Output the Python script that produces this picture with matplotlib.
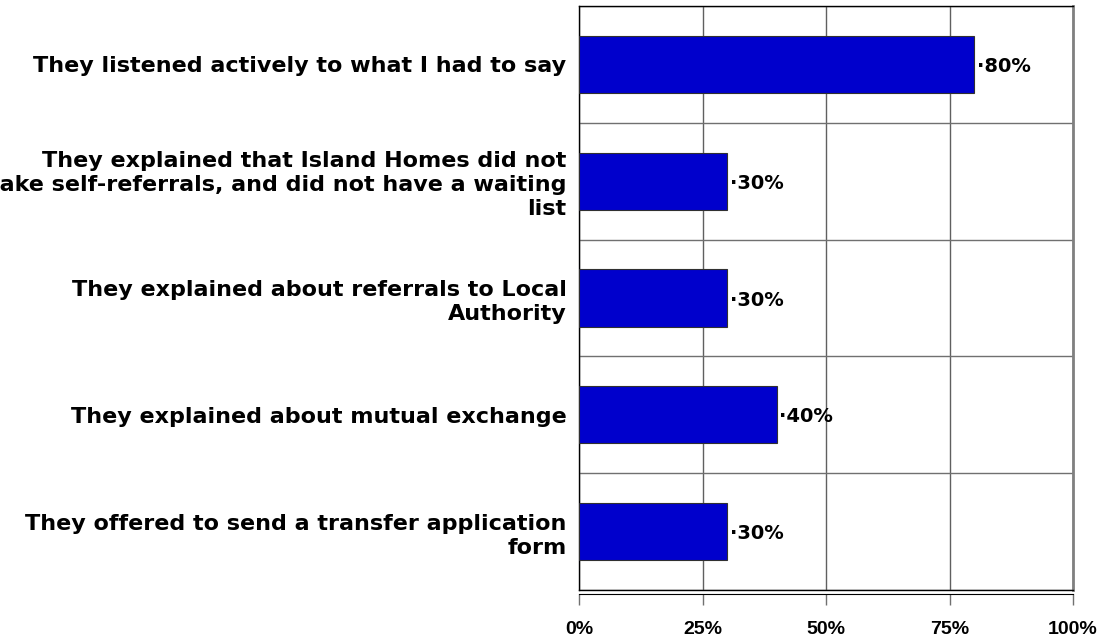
import matplotlib
matplotlib.use('Agg')
import matplotlib.pyplot as plt
import numpy as np

plt.rcParams['font.family'] = ['DejaVu Sans']
plt.rcParams['font.weight'] = 'bold'

# responses, top to bottom
labels = [
    'They listened actively to what I had to say',
    'They explained that Island Homes did not\ntake self-referrals, and did not have a waiting\nlist',
    'They explained about referrals to Local\nAuthority',
    'They explained about mutual exchange',
    'They offered to send a transfer application\nform',
]
values = [80, 30, 30, 40, 30]
xticks = [0, 25, 50, 75, 100]

fig = plt.figure(figsize=(11.04, 6.38), dpi=100)
ax = fig.add_axes([579 / 1104, 1 - 590 / 638, 494 / 1104, 584 / 638])

# spine position first: moving a spine resets the tick setup
ax.spines['bottom'].set_position(('outward', 3))

ypos = np.arange(len(values))
ax.barh(ypos, values, height=0.49, color='#0000CC', edgecolor='#303030',
        linewidth=0.8, zorder=3)

for y, v in zip(ypos, values):
    ax.annotate(f'\u00b7{v}%', (v, y), xytext=(2, -1.5), textcoords='offset points',
                ha='left', va='center', fontsize=14, fontweight='bold', zorder=4)

ax.set_xlim(0, 100)
ax.set_ylim(len(values) - 0.5, -0.5)

ax.set_xticks(xticks)
ax.set_xticklabels([f'{t}%' for t in xticks], fontsize=14, fontweight='bold',
                   family='Liberation Sans')
ax.set_yticks(ypos)
ax.set_yticklabels(labels, fontsize=16, fontweight='bold', multialignment='right',
                   linespacing=1.26)
ax.tick_params(axis='y', length=0, pad=9)
ax.tick_params(axis='x', length=8, width=1, color='#707070', pad=11)

# category separators and value grid
ax.set_yticks(np.arange(len(values) + 1) - 0.5, minor=True)
ax.tick_params(axis='y', which='minor', length=0)
ax.grid(axis='y', which='minor', color='#707070', linewidth=1, zorder=0)
ax.grid(axis='x', which='major', color='#606060', linewidth=1, zorder=0)

for s in ['left', 'top']:
    ax.spines[s].set_color('black')
    ax.spines[s].set_linewidth(1)
ax.spines['right'].set_color('#808080')
ax.spines['right'].set_linewidth(2)
ax.spines['bottom'].set_color('black')
ax.axhline(len(values) - 0.5, color='black', linewidth=1, clip_on=False, zorder=5)

fig.savefig('out.png', dpi=100)
